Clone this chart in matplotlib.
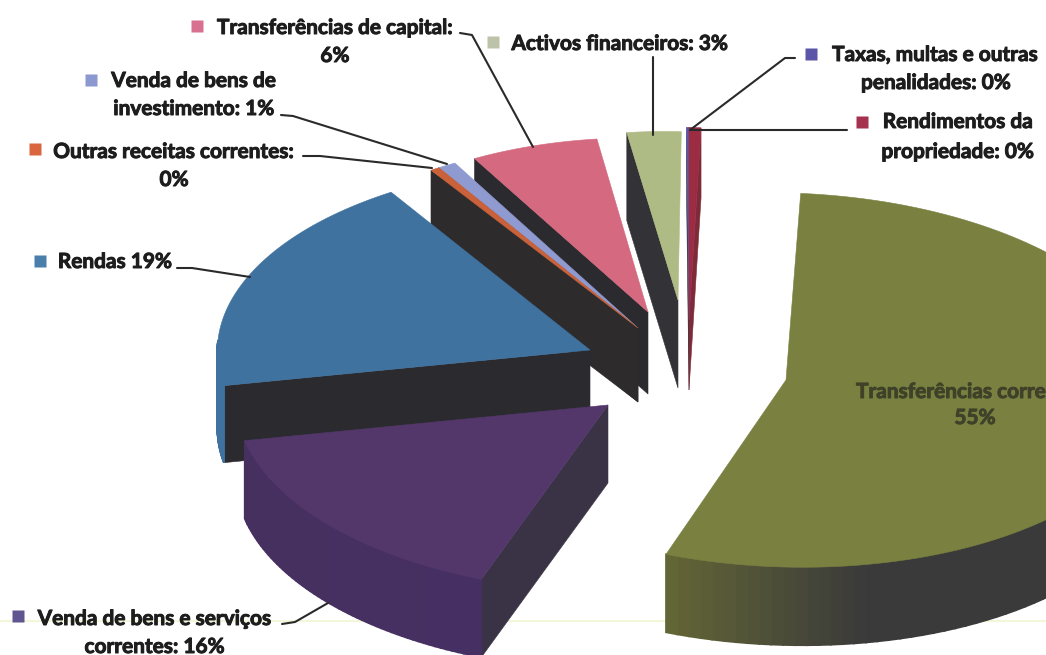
import numpy as np
import matplotlib
matplotlib.use("Agg")
import matplotlib.pyplot as plt
import matplotlib.patheffects as pe
from matplotlib.colors import to_rgb

# ---- data (clockwise from 12 o'clock) ----
categories = ["Rendimentos da propriedade", "Transferências correntes",
              "Venda de bens e serviços correntes", "Rendas",
              "Outras receitas correntes", "Venda de bens de investimento",
              "Transferências de capital", "Activos financeiros",
              "Taxas, multas e outras penalidades"]
shares = [0.5, 54.6, 16.0, 19.0, 0.4, 0.8, 6.0, 2.6, 0.1]

# ---- styling ----
face = ["#9c2c42", "#7a8040", "#53376b", "#3f729f", "#c9623a", "#8f9ad0", "#d4697f", "#afbb84", "#5a55a8"]
wall = ["#7d2a3a", "#3a3a38", "#3a3345", "#2b2a2e", "#2e2b2d", "#2e2b2d", "#2b2a2e", "#333236", "#333236"]
rim_a = ["#7d2a3a", "#3a3a3a", "#462f62", "#3f729f", "#2e2b2d", "#2e2b2d", "#2b2a2e", "#333236", "#333236"]
rim_b = ["#7d2a3a", "#626536", "#46305f", "#3f729f", "#2e2b2d", "#2e2b2d", "#2b2a2e", "#333236", "#333236"]
apex = [(689, 320), (786, 380), (608, 405), (590, 350), (638, 328), (638, 328), (648, 312), (678, 300), (689, 320)]
scale = [1.03, 1, 1, 1, 1, 1, 0.93, 0.9, 1.03]
skew = [0, 3, 10, 22, 12, 12, 8, 6, 0]
depth = [70, 78, 78, 77, 74, 74, 82, 88, 70]
draw_order = [8, 0, 7, 6, 5, 4, 3, 2, 1]
RX, RY, SHEAR = 372, 187, 10

plt.rcParams["font.family"] = ["Lato", "DejaVu Sans"]
fig = plt.figure(figsize=(10.46, 6.55), dpi=100)
ax = fig.add_axes([0, 0, 1, 1])
ax.set_xlim(0, 1046)
ax.set_ylim(655, 0)
ax.axis("off")

ax.plot([0, 1046], [621, 621], color="#f3f6d8", lw=1.5, zorder=0)

edges = np.concatenate([[0], np.cumsum(shares)]) / np.sum(shares) * 2 * np.pi


def project(i, th):
    u, v = np.sin(th), np.cos(th)
    s = scale[i]
    return (apex[i][0] + s * (RX * u + skew[i] * v),
            apex[i][1] + s * (SHEAR * u - RY * v))


def quad(x, y, d, color, z, lw=0.4):
    ax.fill([x[0], x[1], x[1], x[0]], [y[0], y[1], y[1] + d, y[0] + d],
            facecolor=color, edgecolor=color, lw=lw, zorder=z)


for z, i in enumerate(draw_order):
    z = 2 + z * 0.1
    t1, t2 = edges[i], edges[i + 1]
    d = depth[i]
    ax_, ay_ = apex[i]
    # radial walls that face the viewer
    if np.sin(t1) < 0:
        x, y = project(i, t1)
        quad([ax_, x], [ay_, y], d, wall[i], z)
    if np.sin(t2) > 0:
        x, y = project(i, t2)
        quad([ax_, x], [ay_, y], d, wall[i], z)
    # outer rim
    lo, hi = max(t1, np.pi / 2), min(t2, 3 * np.pi / 2)
    if hi > lo:
        ths = np.linspace(lo, hi, 60)
        ca, cb = np.array(to_rgb(rim_a[i])), np.array(to_rgb(rim_b[i]))
        for k in range(len(ths) - 1):
            f = min(1, max(0, (k / 58 - 0.72) / 0.28)) if i == 1 else k / 58
            x0, y0 = project(i, ths[k])
            x1, y1 = project(i, ths[k + 1])
            quad([x0, x1], [y0, y1], d, ca + (cb - ca) * f, z, lw=1.2)
    # top face
    ths = np.linspace(t1, t2, 120)
    px, py = project(i, ths)
    ax.fill(np.r_[ax_, px], np.r_[ay_, py], facecolor=face[i], edgecolor=face[i],
            lw=0.4, zorder=z + 0.01)

# ---- leader lines ----
leaders = [
    [(460, 33), (472, 35), (533, 147)],
    [(653, 57), (653, 135)],
    [(795, 58), (785, 58), (690, 130)],
    [(847, 130), (690, 130)],
    [(281, 115), (293, 116), (447, 164)],
    [(303, 156), (320, 156), (432, 168)],
    [(177, 268), (192, 268), (250, 277)],
    [(282, 624), (295, 622), (328, 603)],
]
for pts in leaders:
    xs, ys = zip(*pts)
    ax.plot(xs, ys, color="#2a2a2a", lw=1.5, zorder=5, solid_capstyle="round")

# ---- legend-key squares ----
keys = [((197, 26), "#d8708f"), ((493, 42), "#bcc3a8"), ((811, 54), "#5a55a8"),
        ((862, 122), "#a5314e"), ((91, 80), "#8c99d1"), ((35, 149), "#d9663f"),
        ((40, 261), "#4a7fac"), ((18, 616), "#5f5590")]
for (x, y), c in keys:
    ax.plot(x, y, "s", ms=8.5, color=c, mec="none", zorder=6)

# ---- labels ----
FS = 15


def heavy(color):
    return [pe.withStroke(linewidth=0.7, foreground=color)]


labels = [
    ("Transferências de capital:", 335, 28), ("6%", 335, 56),
    ("Activos financeiros: 3%", 620, 44),
    ("Taxas, multas e outras", 935, 55), ("penalidades: 0%", 936, 83),
    ("Rendimentos da", 958, 122), ("propriedade: 0%", 958, 152),
    ("Venda de bens de", 194, 81), ("investimento: 1%", 194, 109),
    ("Outras receitas correntes:", 174, 152), ("0%", 174, 180),
    ("Rendas 19%", 115, 262),
    ("Venda de bens e serviços", 155, 619), ("correntes: 16%", 155, 647),
]
for s, x, y in labels:
    ax.text(x, y, s, ha="center", va="center", fontsize=FS, fontweight="bold",
            color="#1d1d1d", zorder=7, path_effects=heavy("#1d1d1d"))
ax.text(856, 392, "Transferências correntes:", ha="left", va="center", fontsize=FS,
        fontweight="bold", color="#3f4228", zorder=7, clip_on=True,
        path_effects=heavy("#3f4228"))
ax.text(975, 418, "55%", ha="center", va="center", fontsize=FS,
        fontweight="bold", color="#3f4228", zorder=7, path_effects=heavy("#3f4228"))

fig.savefig("out.png", dpi=100, facecolor="white")
